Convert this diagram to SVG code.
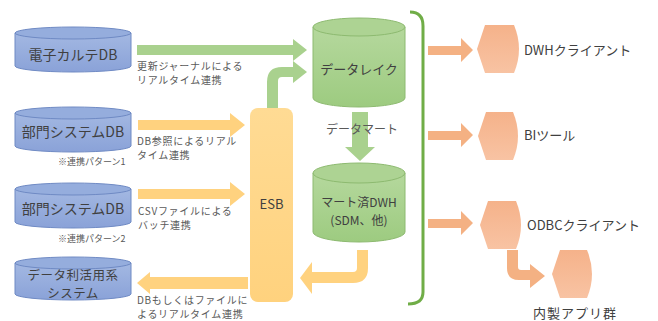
<svg xmlns="http://www.w3.org/2000/svg" width="658" height="321" viewBox="0 0 658 321">
<defs>
<linearGradient id="gBlue" x1="0" y1="0" x2="0" y2="1"><stop offset="0" stop-color="#A3B8E2"/><stop offset="1" stop-color="#8AA2D8"/></linearGradient>
<linearGradient id="gGreen" x1="0" y1="0" x2="0" y2="1"><stop offset="0" stop-color="#B5D89D"/><stop offset="1" stop-color="#9DCB80"/></linearGradient>
<linearGradient id="gOrange" x1="0" y1="0" x2="0" y2="1"><stop offset="0" stop-color="#FFDB94"/><stop offset="1" stop-color="#FFD27E"/></linearGradient>
<linearGradient id="gSalmon" x1="0" y1="0" x2="0" y2="1"><stop offset="0" stop-color="#F5B28A"/><stop offset="1" stop-color="#F8C3A3"/></linearGradient>
</defs>
<style>
text{font-family:"Noto Sans CJK JP","Noto Sans",sans-serif;fill:#404040}
.db{fill:url(#gBlue);stroke:#6F8AC4;stroke-width:1}
.dbtop{fill:#95ADDD;stroke:#6F8AC4;stroke-width:1}
.gc{fill:url(#gGreen);stroke:#8DBA70;stroke-width:1}
.gctop{fill:#ADD393;stroke:#8DBA70;stroke-width:1}
.ga{fill:#A9D18E}
.oa{fill:#FFD27F}
.sa{fill:#F4B183}
.hex{fill:url(#gSalmon)}
.lbl{font-size:14px;text-anchor:middle}
.lbl2{font-size:12.5px;text-anchor:middle;letter-spacing:0.5px}
.note{font-size:10px;fill:#595959;letter-spacing:0.7px}
.small{font-size:9px;fill:#595959}
.rl{font-size:13px}
</style>
<g id="connectors">
<polygon class="ga" points="137,45 293,45 293,39 307,50 293,61 293,55 137,55"/>
<path class="ga" d="M267,108 L267,82 Q267,67 282,67 L293,67 L293,61 L307,72 L293,83 L293,77 L282,77 Q278,77 278,81 L278,108 Z"/>
<polygon class="oa" points="138,120 230,120 230,113 245,125 230,137 230,130 138,130"/>
<polygon class="oa" points="138,189 230,189 230,182 245,194 230,206 230,199 138,199"/>
<polygon class="oa" points="248,277 150,277 150,272 137,283 150,294 150,289 248,289"/>
<polygon class="ga" points="352,112 368,112 368,147 375,147 360,161 345,147 352,147"/>
<path class="oa" d="M368,250 L368,268 Q368,283 353,283 L312,283 L312,294 L300,278 L312,262 L312,272 L353,272 Q357,272 357,268 L357,250 Z"/>
<polygon class="sa" points="428,46 461,46 461,38 473,50 461,62 461,55 428,55"/>
<polygon class="sa" points="428,131 461,131 461,123 473,135 461,147 461,140 428,140"/>
<polygon class="sa" points="428,219 461,219 461,211 473,223 461,235 461,228 428,228"/>
<path class="sa" d="M507,250 L507,268 Q507,280 519,280 L530,280 L530,288 L545,276 L530,264 L530,270 L521,270 Q518,270 518,267 L518,250 Z"/>
<path d="M410,12 Q423,12 423,26 L423,292 Q423,304 408,304" fill="none" stroke="#70AD47" stroke-width="3"/>
<text class="note" x="137" y="70">更新ジャーナルによる</text>
<text class="note" x="137" y="84">リアルタイム連携</text>
<text class="note" x="137" y="145">DB参照によるリアル</text>
<text class="note" x="137" y="159">タイム連携</text>
<text class="note" x="138" y="215">CSVファイルによる</text>
<text class="note" x="138" y="229">バッチ連携</text>
<text class="note" x="137" y="304">DBもしくはファイルに</text>
<text class="note" x="137" y="318">よるリアルタイム連携</text>
<text x="362" y="134" font-size="12" text-anchor="middle" style="fill:#595959">データマート</text>
</g>
<g id="db-karte">
<path class="db" d="M15,33 L15,66 A58,6 0 0 0 131,66 L131,33 Z"/>
<ellipse class="dbtop" cx="73" cy="33" rx="58" ry="6"/>
<text class="lbl" x="73" y="60">電子カルテDB</text>
</g>
<g id="db-bumon1">
<path class="db" d="M15,113 L15,146 A58,6 0 0 0 131,146 L131,113 Z"/>
<ellipse class="dbtop" cx="73" cy="113" rx="58" ry="6"/>
<text class="lbl" x="73" y="137">部門システムDB</text>
<text class="small" x="58" y="165">※連携パターン1</text>
</g>
<g id="db-bumon2">
<path class="db" d="M15,189 L15,222 A58,6 0 0 0 131,222 L131,189 Z"/>
<ellipse class="dbtop" cx="73" cy="189" rx="58" ry="6"/>
<text class="lbl" x="73" y="214">部門システムDB</text>
<text class="small" x="58" y="242">※連携パターン2</text>
</g>
<g id="db-riyou">
<path class="db" d="M15,263 L15,294 A58,6 0 0 0 131,294 L131,263 Z"/>
<ellipse class="dbtop" cx="73" cy="263" rx="58" ry="6"/>
<text class="lbl2" x="73" y="280">データ利活用系</text>
<text class="lbl2" x="73" y="298">システム</text>
</g>
<g id="esb">
<rect x="250" y="108" width="43" height="194" rx="8" fill="url(#gOrange)"/>
<text x="271.5" y="209" font-size="13" text-anchor="middle">ESB</text>
</g>
<g id="datalake">
<path class="gc" d="M313,27 L313,98 A46,9 0 0 0 405,98 L405,27 Z"/>
<ellipse class="gctop" cx="359" cy="27" rx="46" ry="9"/>
<text x="359" y="74" font-size="13" text-anchor="middle">データレイク</text>
</g>
<g id="dwh">
<path class="gc" d="M313,173 L313,232 A46,10 0 0 0 405,232 L405,173 Z"/>
<ellipse class="gctop" cx="359" cy="173" rx="46" ry="10"/>
<text x="359" y="207" font-size="12" text-anchor="middle">マート済DWH</text>
<text x="359" y="225" font-size="12" text-anchor="middle">(SDM、他)</text>
</g>
<g id="dwh-client">
<path class="hex" d="M485,25 L514,25 Q524,49 514,73 L485,73 L477,49 Z"/>
<text class="rl" x="524" y="55">DWHクライアント</text>
</g>
<g id="bi-tool">
<path class="hex" d="M486,112 L513,112 Q523,136 513,160 L486,160 L478,136 Z"/>
<text class="rl" x="524" y="140">BIツール</text>
</g>
<g id="odbc-client">
<path class="hex" d="M488,201 L516,201 Q526,225 516,249 L488,249 L480,225 Z"/>
<text class="rl" x="527" y="230">ODBCクライアント</text>
</g>
<g id="naisei-app">
<path class="hex" d="M560,250 L587,250 Q597,274 587,298 L560,298 L552,274 Z"/>
<text class="rl" x="533" y="318" style="letter-spacing:1px">内製アプリ群</text>
</g>
</svg>
